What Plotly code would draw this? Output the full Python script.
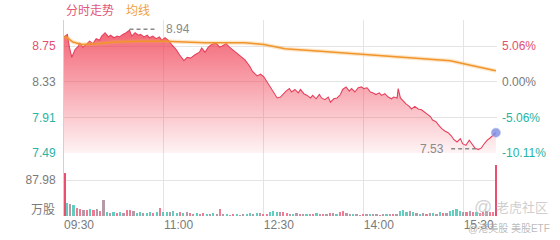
import plotly.graph_objects as go

# ---------------- data ----------------
prev_close = 8.33
price_ticks = [8.75, 8.33, 7.91, 7.49]
pct_tick_labels = ["5.06%", "0.00%", "-5.06%", "-10.11%"]
price_top = 9.06

time_ticks = [0, 90, 180, 270, 360]
time_labels = ["09:30", "11:00", "12:30", "14:00", "15:30"]
session_len = 390

price_minute = [
    0, 3, 5, 7, 10, 13, 14, 17, 20, 23,
    26, 29, 32, 34, 37, 40, 42, 45, 48, 50,
    53, 56, 59, 61, 64, 67, 69, 72, 75, 77,
    80, 83, 86, 88, 91, 94, 97, 101, 104, 108,
    111, 114, 118, 122, 124, 127, 130, 133, 137, 140,
    142, 146, 149, 152, 156, 159, 163, 167, 170, 174,
    177, 180, 183, 186, 189, 192, 195, 197, 200, 203,
    205, 208, 211, 213, 216, 219, 222, 224, 227, 230,
    232, 235, 238, 240, 243, 246, 249, 251, 254, 257,
    259, 262, 265, 268, 270, 273, 276, 278, 281, 284,
    286, 289, 292, 295, 297, 300, 301, 303, 305, 308,
    311, 313, 316, 319, 322, 324, 327, 330, 332, 335,
    338, 340, 343, 346, 349, 351, 354, 357, 359, 362,
    365, 367, 370, 373, 376, 378, 381, 384, 386, 389,
]
price = [
    8.86, 8.89, 8.73, 8.62, 8.71, 8.75, 8.79, 8.74, 8.77, 8.81,
    8.78, 8.84, 8.82, 8.87, 8.91, 8.86, 8.88, 8.85, 8.87, 8.86,
    8.89, 8.91, 8.94, 8.87, 8.91, 8.88, 8.89, 8.86, 8.88, 8.85,
    8.87, 8.84, 8.86, 8.82, 8.85, 8.82, 8.77, 8.71, 8.65, 8.58,
    8.62, 8.61, 8.65, 8.68, 8.73, 8.68, 8.74, 8.77, 8.79, 8.74,
    8.75, 8.78, 8.74, 8.71, 8.67, 8.64, 8.59, 8.52, 8.45, 8.40,
    8.42, 8.39, 8.33, 8.27, 8.20, 8.14, 8.15, 8.18, 8.22, 8.25,
    8.21, 8.24, 8.20, 8.24, 8.19, 8.17, 8.14, 8.17, 8.13, 8.18,
    8.14, 8.12, 8.15, 8.09, 8.13, 8.14, 8.18, 8.24, 8.27, 8.22,
    8.25, 8.21, 8.26, 8.27, 8.25, 8.26, 8.21, 8.20, 8.18, 8.20,
    8.17, 8.19, 8.15, 8.13, 8.15, 8.14, 8.25, 8.14, 8.11, 8.07,
    8.04, 8.01, 8.04, 8.01, 8.00, 7.98, 7.95, 7.92, 7.88, 7.86,
    7.81, 7.78, 7.75, 7.73, 7.69, 7.65, 7.62, 7.66, 7.60, 7.58,
    7.64, 7.60, 7.55, 7.53, 7.55, 7.59, 7.64, 7.67, 7.69, 7.73,
]

avg_minute = [0, 3, 8, 16, 30, 46, 67, 91, 127, 163, 180, 199, 231, 253, 271, 321, 348, 358, 372, 389]
avg_price = [8.86, 8.85, 8.80, 8.77, 8.78, 8.80, 8.81, 8.81, 8.79, 8.79, 8.77, 8.72, 8.69, 8.67, 8.65, 8.61, 8.58, 8.55, 8.51, 8.46]

vol_tick = 87.98
vol_open = 105
vol_close = 125
# 3-minute buckets starting at minute 1 (万股)
vol_bucket = [
    32, 30, 28, 20, 18, 15, 14, 16, 14, 18, 12, 38,
    10, 8, 11, 7, 9, 8, 14, 15, 12,
    8, 9, 7, 8, 10, 7, 9, 20,
    9, 11, 10, 12, 8, 10, 7, 9,
    7, 6, 8, 5, 7, 6, 5, 8, 6, 17,
    4, 5, 3, 4, 5, 3, 4, 6, 7, 6, 8, 7, 5, 6,
    11, 12, 10, 9, 9, 8,
    6, 5, 7, 5, 6, 4, 6, 5, 7, 5, 6, 5,
    7, 8, 6, 9, 12, 7,
    5, 4, 6, 3, 5, 4, 6, 4, 5, 3, 6, 4, 5, 6, 4,
    12, 14, 11, 13, 10,
    7, 6, 8, 5, 7, 8, 6, 9, 7, 8,
    12, 15, 17, 13, 11,
    10, 12, 9, 11, 8, 10, 12, 9, 11,
]
# 1 = up, -1 = down, 0 = flat
vol_dir = [
    -1, 0, -1, 1, 1, 0, 1, -1, 1, 0, 1, 0,
    -1, 0, -1, 1, -1, 0, 1, 1, 0,
    -1, -1, 0, -1, -1, 1, -1, 1,
    -1, -1, 0, -1, -1, 1, -1, 0,
    1, 0, -1, 0, 1, -1, 0, -1, 0, 1,
    0, -1, 0, 1, -1, 0, 0, -1, -1, 0, -1, 0, 1, 1,
    -1, -1, -1, 0, 1, 1,
    0, -1, 0, 1, 0, -1, 0, 1, -1, 0, 1, 0,
    1, 0, -1, 1, 1, 0,
    0, -1, 0, 0, 1, 0, -1, 0, 0, 1, 0, -1, 0, 1, 0,
    -1, -1, -1, 0, -1,
    0, -1, 0, 1, 0, -1, 0, -1, 1, 0,
    -1, -1, -1, -1, 0,
    1, 0, 1, -1, 1, 1, 0, 1, 1,
]

# ---------------- styling ----------------
W, H = 560, 240
RED = "#e2506e"
TEAL = "#28b3a3"
GRAY = "#7a7a7a"
GRID = "#e4e4e4"
FONT = "Liberation Sans, Arial, Noto Sans CJK SC, sans-serif"

px_left, px_right = 64, 497
px_price_top, px_price_bot = 20, 153
px_vol_bot = 216
xdom = [px_left / W, px_right / W]
price_dom = [1 - px_price_bot / H, 1 - px_price_top / H]
vol_dom = [1 - px_vol_bot / H, 1 - px_price_bot / H]
vol_px_per_tick = 36
vol_top = vol_tick * (px_vol_bot - px_price_bot) / vol_px_per_tick


def col_for(p):
    if abs(p - prev_close) < 1e-9:
        return GRAY
    return RED if p > prev_close else TEAL


price_ticktext = [f'<span style="color:{col_for(p)}">{p:.2f}</span>' for p in price_ticks]
pct_vals = [(p / prev_close - 1) * 100 for p in price_ticks]
pct_ticktext = [f'<span style="color:{col_for(p)}">{t}</span>' for p, t in zip(price_ticks, pct_tick_labels)]
pct_range = [(price_ticks[-1] / prev_close - 1) * 100, (price_top / prev_close - 1) * 100]

dir_color = {1: "rgba(236,90,122,0.8)", -1: "rgba(60,192,176,0.8)", 0: "rgba(160,130,145,0.8)"}
vol_x = [0.5]
vol_y = [vol_open]
vol_c = ["#e8506e"]
vol_w = [1.0]
for j, (v, d) in enumerate(zip(vol_bucket, vol_dir)):
    vol_x.append(1 + 3 * j + 1.5)
    vol_y.append(v)
    vol_c.append(dir_color[d])
    vol_w.append(2.0)
vol_x.append(session_len - 0.5)
vol_y.append(vol_close)
vol_c.append("#e8506e")
vol_w.append(1.0)

fig = go.Figure()

fig.add_trace(go.Scatter(
    x=price_minute, y=price, mode="lines",
    line=dict(color="#e6405c", width=1.1),
    fill="tozeroy",
    fillgradient=dict(type="vertical",
                      colorscale=[[0, "rgba(240,60,80,0.06)"], [1, "rgba(240,60,80,0.85)"]],
                      start=price_ticks[-1], stop=price_top),
    xaxis="x", yaxis="y", hoverinfo="skip"))

fig.add_trace(go.Scatter(
    x=avg_minute, y=avg_price, mode="lines",
    line=dict(color="rgba(248,170,70,0.3)", width=4),
    xaxis="x", yaxis="y", hoverinfo="skip"))
fig.add_trace(go.Scatter(
    x=avg_minute, y=avg_price, mode="lines",
    line=dict(color="#f0952c", width=1.5),
    xaxis="x", yaxis="y", hoverinfo="skip"))

fig.add_trace(go.Scatter(
    x=[price_minute[-1]], y=[price[-1]], mode="markers",
    marker=dict(size=9, color="rgba(125,140,228,0.8)", line=dict(width=1, color="rgba(170,180,240,0.6)")),
    cliponaxis=False, xaxis="x", yaxis="y", hoverinfo="skip"))

# invisible trace to activate percent axis
fig.add_trace(go.Scatter(x=[0], y=[0], mode="markers", marker=dict(opacity=0),
                         xaxis="x", yaxis="y2", hoverinfo="skip"))

fig.add_trace(go.Bar(
    x=vol_x, y=vol_y, width=vol_w, marker=dict(color=vol_c, line=dict(width=0)),
    xaxis="x2", yaxis="y3", hoverinfo="skip"))

# max / min markers
i_max = max(range(len(price)), key=lambda i: price[i])
i_min = min(range(len(price)), key=lambda i: price[i])
shapes = [
    dict(type="line", xref="x", yref="y", xsizemode="pixel", xanchor=price_minute[i_max],
         x0=0, x1=28, y0=price[i_max] + 0.01, y1=price[i_max] + 0.01,
         line=dict(color="#8a8a8a", width=1.5, dash="4px,3px")),
    dict(type="line", xref="x", yref="y", xsizemode="pixel", xanchor=price_minute[i_min],
         x0=-27, x1=0, y0=price[i_min] + 0.01, y1=price[i_min] + 0.01,
         line=dict(color="#8a8a8a", width=1.5, dash="4px,3px")),
]
annotations = [
    dict(x=price_minute[i_max], y=price[i_max] + 0.01, xref="x", yref="y", text=f"{price[i_max]:.2f}",
         showarrow=False, xanchor="left", yanchor="middle", xshift=34,
         font=dict(size=12, color="#8a8a8a", family=FONT)),
    dict(x=price_minute[i_min], y=price[i_min] + 0.01, xref="x", yref="y", text=f"{price[i_min]:.2f}",
         showarrow=False, xanchor="right", yanchor="middle", xshift=-32,
         font=dict(size=12, color="#8a8a8a", family=FONT)),
    dict(x=px_left / W, y=1 - 11 / H, xref="paper", yref="paper", text="分时走势", showarrow=False,
         xanchor="left", yanchor="middle", font=dict(size=12, color="#e0587a", family=FONT)),
    dict(x=124 / W, y=1 - 11 / H, xref="paper", yref="paper", text="均线", showarrow=False,
         xanchor="left", yanchor="middle", font=dict(size=12, color="#f0a040", family=FONT)),
    dict(x=57 / W, y=1 - 210 / H, xref="paper", yref="paper", text="万股", showarrow=False,
         xanchor="right", yanchor="middle", font=dict(size=12, color=GRAY, family=FONT)),
    # watermark
    dict(x=494 / W, y=1 - 207 / H, xref="paper", yref="paper", text="@", showarrow=False,
         xanchor="right", yanchor="middle", font=dict(size=18, color="rgba(190,190,190,0.7)", family=FONT)),
    dict(x=550 / W, y=1 - 207 / H, xref="paper", yref="paper", text="老虎社区", showarrow=False,
         xanchor="right", yanchor="middle", font=dict(size=13, color="rgba(190,190,190,0.75)", family=FONT)),
    dict(x=552 / W, y=1 - 228 / H, xref="paper", yref="paper", text="@港美股 美股ETF", showarrow=False,
         xanchor="right", yanchor="middle", font=dict(size=10, color="rgba(170,170,170,0.8)", family=FONT)),
]

axis_common = dict(automargin=False, zeroline=False, fixedrange=True)

fig.update_layout(
    width=W, height=H,
    margin=dict(l=0, r=0, t=0, b=0, pad=0),
    paper_bgcolor="white", plot_bgcolor="white",
    showlegend=False, bargap=0,
    font=dict(family=FONT, size=12, color=GRAY),
    xaxis=dict(domain=xdom, range=[0, session_len], anchor="y", tickvals=time_ticks,
               showticklabels=False, showgrid=True, gridcolor=GRID, gridwidth=1, ticks="",
               showline=False, **axis_common),
    yaxis=dict(domain=price_dom, range=[price_ticks[-1], price_top], anchor="x",
               tickvals=price_ticks, ticktext=price_ticktext, showgrid=True, gridcolor=GRID,
               ticks="", showline=True, linecolor="#d2d2d2", linewidth=1, ticklabelstandoff=5,
               tickfont=dict(size=12, family=FONT), **axis_common),
    yaxis2=dict(overlaying="y", side="right", anchor="x", range=pct_range,
                tickvals=pct_vals, ticktext=pct_ticktext, showgrid=False, ticks="",
                showline=False, ticklabelstandoff=4, tickfont=dict(size=12, family=FONT), **axis_common),
    xaxis2=dict(domain=xdom, range=[0, session_len], anchor="y3", tickvals=time_ticks,
                ticktext=time_labels, ticklabelposition="outside right", showgrid=True,
                gridcolor=GRID, ticks="", showline=False, tickfont=dict(size=12, color=GRAY, family=FONT),
                **axis_common),
    yaxis3=dict(domain=vol_dom, range=[0, vol_top], anchor="x2", tickvals=[vol_tick],
                ticktext=[f"{vol_tick:.2f}"], showgrid=True, gridcolor=GRID, ticks="",
                showline=True, linecolor="#d2d2d2", linewidth=1, ticklabelstandoff=5,
                tickfont=dict(size=12, color=GRAY, family=FONT), **axis_common),
    shapes=shapes,
    annotations=annotations,
)

fig.write_html("out.html")
